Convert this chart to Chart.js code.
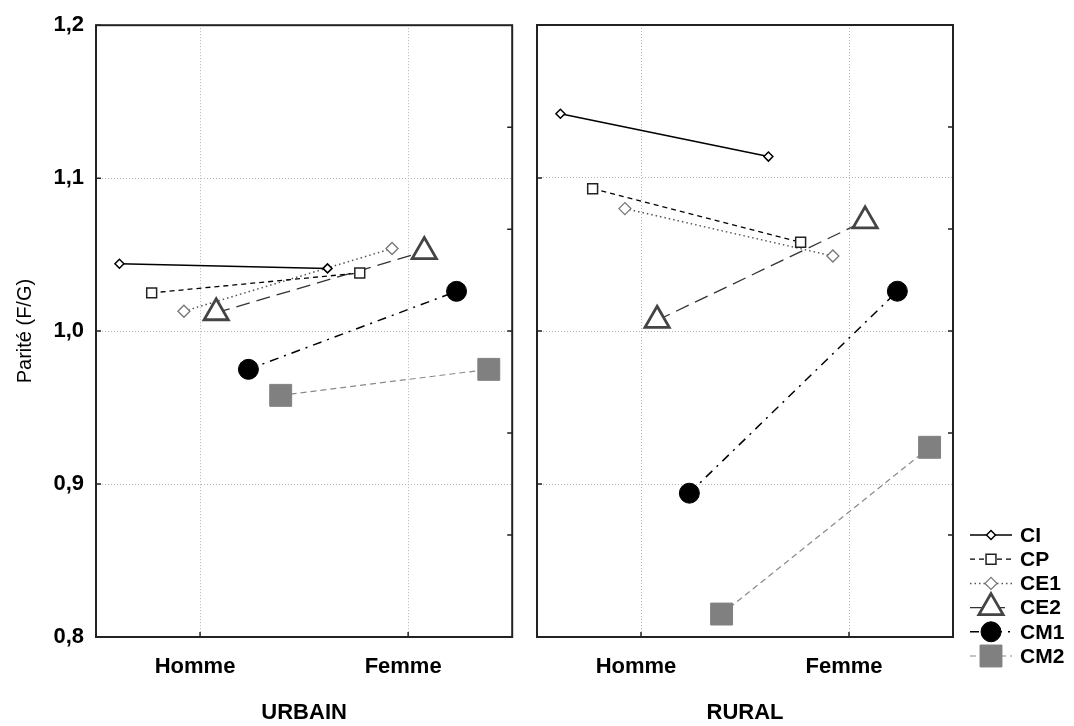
<!DOCTYPE html>
<html>
<head>
<meta charset="utf-8">
<title>Parité (F/G)</title>
<script src="https://cdn.jsdelivr.net/npm/chart.js@4.4.1/dist/chart.umd.min.js"></script>
<style>
  body { margin: 0; background: #fff; }
  #wrap { position: relative; width: 1074px; height: 726px; }
  #urbain { position: absolute; left: 0; top: 0; }
  #rural { position: absolute; left: 520px; top: 0; }
</style>
</head>
<body>
<div id="wrap">
  <canvas id="urbain" width="529" height="726"></canvas>
  <canvas id="rural" width="554" height="726"></canvas>
</div>
<script>
const categories = ['Homme', 'Femme'];
const seriesNames = ['CI', 'CP', 'CE1', 'CE2', 'CM1', 'CM2'];
const yTicks = [0.8, 0.9, 1.0, 1.1, 1.2];

// parité F/G, [Homme, Femme]
const urbainCI  = [1.044, 1.041];
const urbainCP  = [1.025, 1.038];
const urbainCE1 = [1.013, 1.054];
const urbainCE2 = [1.012, 1.052];
const urbainCM1 = [0.975, 1.026];
const urbainCM2 = [0.958, 0.975];

const ruralCI  = [1.142, 1.114];
const ruralCP  = [1.093, 1.058];
const ruralCE1 = [1.080, 1.049];
const ruralCE2 = [1.007, 1.072];
const ruralCM1 = [0.894, 1.026];
const ruralCM2 = [0.815, 0.924];

const FONT = "'Liberation Sans', Arial, sans-serif";

// line / marker look of each series
const styles = [
  { borderColor: '#000', borderWidth: 1.5, borderDash: [],           pointStyle: 'rectRot',  pointRadius: 4.5, pointBackgroundColor: '#fff', pointBorderColor: '#000', pointBorderWidth: 1.5 },
  { borderColor: '#000', borderWidth: 1.3, borderDash: [5, 4],       pointStyle: 'rect',     pointRadius: 7,   pointBackgroundColor: '#fff', pointBorderColor: '#222', pointBorderWidth: 1.5 },
  { borderColor: '#555', borderWidth: 1.5, borderDash: [1.5, 3],     pointStyle: 'rectRot',  pointRadius: 6,   pointBackgroundColor: '#fff', pointBorderColor: '#777', pointBorderWidth: 1.3 },
  { borderColor: '#333', borderWidth: 1.3, borderDash: [14, 7],      pointStyle: 'triangle', pointRadius: 14,  pointBackgroundColor: '#fff', pointBorderColor: '#444', pointBorderWidth: 2.8 },
  { borderColor: '#000', borderWidth: 1.5, borderDash: [9, 6, 2, 6], pointStyle: 'circle',   pointRadius: 10,  pointBackgroundColor: '#000', pointBorderColor: '#000', pointBorderWidth: 1 },
  { borderColor: '#8a8a8a', borderWidth: 1.2, borderDash: [6, 4],    pointStyle: 'rect',     pointRadius: 15.5, pointBackgroundColor: '#808080', pointBorderColor: '#808080', pointBorderWidth: 1 }
];

// categories sit at x = 1 and 3, series are spread around them
const catPos = [1, 3];
const dodge = 0.31;

function buildDatasets(values) {
  return seriesNames.map((name, s) => Object.assign({
    label: name,
    showLine: true,
    fill: false,
    data: values[s].map((v, c) => ({ x: catPos[c] + (s - 2.5) * dodge, y: v }))
  }, styles[s]));
}

// frame around the plot with small inner ticks
const framePlugin = {
  id: 'frame',
  afterDatasetsDraw(chart) {
    const { ctx, chartArea: a, scales } = chart;
    ctx.save();
    ctx.strokeStyle = '#222';
    ctx.lineWidth = 1.5;
    ctx.beginPath();
    yTicks.forEach(v => {
      const y = scales.y.getPixelForValue(v);
      ctx.moveTo(a.left, y); ctx.lineTo(a.left + 5, y);
    });
    for (let k = 1; k < 6; k++) {
      const y = scales.y.getPixelForValue(0.8 + k * 0.4 / 6);
      ctx.moveTo(a.right, y); ctx.lineTo(a.right - 5, y);
    }
    catPos.forEach(p => {
      const x = scales.x.getPixelForValue(p);
      ctx.moveTo(x, a.bottom); ctx.lineTo(x, a.bottom - 5);
    });
    ctx.stroke();
    ctx.lineWidth = 2;
    ctx.strokeRect(a.left, a.top, a.right - a.left, a.bottom - a.top);
    ctx.restore();
  }
};

// legend: a short line sample with its marker, then the name
const legendPlugin = {
  id: 'sideLegend',
  afterDraw(chart) {
    const ctx = chart.ctx;
    const x0 = 450, x1 = 492, tx = 500, top = 535, step = 24.2;
    chart.data.datasets.forEach((ds, i) => {
      const y = top + i * step;
      ctx.save();
      ctx.strokeStyle = ds.borderColor;
      ctx.lineWidth = ds.borderWidth;
      ctx.setLineDash(ds.borderDash);
      ctx.beginPath();
      ctx.moveTo(x0, y); ctx.lineTo(x1, y);
      ctx.stroke();
      ctx.setLineDash([]);
      ctx.fillStyle = ds.pointBackgroundColor;
      ctx.strokeStyle = ds.pointBorderColor;
      ctx.lineWidth = ds.pointBorderWidth;
      Chart.helpers.drawPoint(ctx, {
        pointStyle: ds.pointStyle, radius: ds.pointRadius, rotation: 0, borderWidth: ds.pointBorderWidth
      }, (x0 + x1) / 2, y);
      ctx.fillStyle = '#000';
      ctx.font = 'bold 21px ' + FONT;
      ctx.textBaseline = 'middle';
      ctx.fillText(ds.label, tx, y + 1);
      ctx.restore();
    });
  }
};

function makePanel(canvasId, title, values, isFirst) {
  const plugins = [framePlugin];
  if (!isFirst) plugins.push(legendPlugin);
  return new Chart(document.getElementById(canvasId), {
    type: 'scatter',
    data: { datasets: buildDatasets(values) },
    plugins: plugins,
    options: {
      responsive: false,
      animation: false,
      layout: { padding: { top: 25, right: isFirst ? 8 : 121, left: 0, bottom: 0 } },
      plugins: { legend: { display: false }, tooltip: { enabled: false } },
      scales: {
        x: {
          type: 'linear',
          min: 0,
          max: 4,
          afterBuildTicks: scale => { scale.ticks = catPos.map(p => ({ value: p })); },
          afterFit: scale => { scale.height = 89; },
          grid: { color: '#b5b5b5', drawTicks: false, lineWidth: 1 },
          border: { display: false, dash: [1, 2] },
          ticks: {
            padding: 17,
            labelOffset: -5,
            color: '#000',
            font: { family: FONT, size: 22, weight: 'bold' },
            callback: v => categories[catPos.indexOf(v)]
          },
          title: {
            display: true,
            text: title,
            color: '#000',
            font: { family: FONT, size: 22, weight: 'bold' },
            padding: { top: 13, bottom: 0 }
          }
        },
        y: {
          min: 0.8,
          max: 1.2,
          afterBuildTicks: scale => { scale.ticks = yTicks.map(v => ({ value: v })); },
          afterFit: scale => { scale.width = isFirst ? 96 : 17; },
          grid: { color: '#b5b5b5', drawTicks: false, lineWidth: 1 },
          border: { display: false, dash: [1, 2] },
          ticks: {
            display: isFirst,
            padding: 12,
            color: '#000',
            font: { family: FONT, size: 22, weight: 'bold' },
            callback: v => v.toFixed(1).replace('.', ',')
          },
          title: {
            display: isFirst,
            text: 'Parité (F/G)',
            color: '#000',
            font: { family: FONT, size: 20 },
            padding: { top: 13, bottom: 0 }
          }
        }
      }
    }
  });
}

makePanel('urbain', 'URBAIN',
  [urbainCI, urbainCP, urbainCE1, urbainCE2, urbainCM1, urbainCM2], true);
makePanel('rural', 'RURAL',
  [ruralCI, ruralCP, ruralCE1, ruralCE2, ruralCM1, ruralCM2], false);
</script>
</body>
</html>
